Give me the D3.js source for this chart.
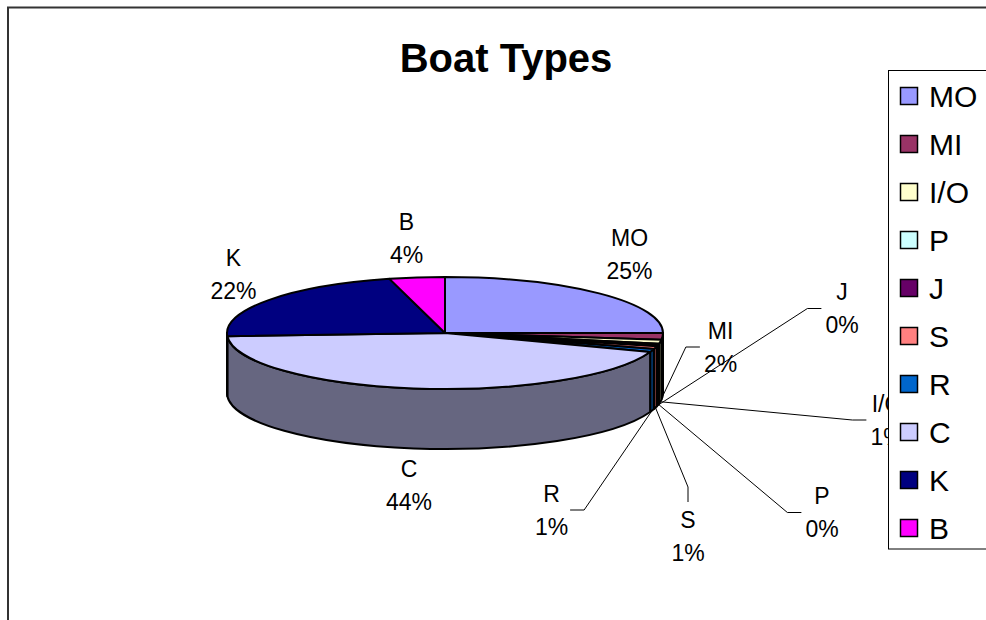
<!DOCTYPE html>
<html>
<head>
<meta charset="utf-8">
<script src="https://cdn.jsdelivr.net/npm/d3@7"></script>
<style>
  body { margin: 0; background: #fff; }
  svg { display: block; }
  text { font-family: "Liberation Sans", Arial, Helvetica, sans-serif; fill: #000; }
</style>
</head>
<body>
<svg id="chart" width="986" height="620"></svg>
<script>
// Boat type shares (percent of all boats counted)
const categories = ["MO", "MI", "I/O", "P", "J", "S", "R", "C", "K", "B"];
const shares     = [25.0, 1.9, 1.2, 0.3, 0.4, 0.8, 0.9, 43.6, 21.8, 4.1];
const colors     = ["#9999FF", "#993366", "#FFFFCC", "#CCFFFF", "#660066",
                    "#FF8080", "#0066CC", "#CCCCFF", "#000080", "#FF00FF"];
const chartTitle = "Boat Types";

// Layout of the tilted pie (ellipse radii and wall depth)
const pie3d = { cx: 445, cy: 333, rx: 218, ry: 56, depth: 60 };

// Label block centres, offset from the pie centre
const labelOffsets = {
  "MO": [184.5, -79], "MI": [275.5, 14], "I/O": [442, 87], "P": [377, 179.5],
  "J": [397, -24.5], "S": [243, 203.5], "R": [106.5, 177], "C": [-36, 152],
  "K": [-211.5, -59], "B": [-38.5, -95]
};
// Slices whose labels are pulled away and joined by a leader line
const leaderSide = { "MI": "left", "I/O": "left", "P": "left", "J": "left", "S": "top", "R": "right" };

const labelFont = 23, lineGap = 33;
const svg = d3.select("#chart");

// Chart area frame
svg.append("rect")
  .attr("x", 8).attr("y", 7.5).attr("width", 1100).attr("height", 700)
  .attr("fill", "#fff").attr("stroke", "#333").attr("stroke-width", 2);

// Title
svg.append("text")
  .attr("x", 506).attr("y", 72)
  .attr("text-anchor", "middle")
  .attr("font-size", 40).attr("font-weight", "bold")
  .text(chartTitle);

const data = categories.map((c, i) => ({ name: c, value: shares[i], color: colors[i] }));
const total = d3.sum(shares);
const arcs = d3.pie().sort(null).value(d => d.value)(data);

// Projects an angle (clockwise from 12 o'clock) onto the tilted ellipse, dropped by z
const proj = (a, z = 0) => [pie3d.cx + pie3d.rx * Math.sin(a), pie3d.cy - pie3d.ry * Math.cos(a) + z];
const shade = c => { const r = d3.rgb(c); return d3.rgb(r.r * 0.5, r.g * 0.5, r.b * 0.5).formatHex(); };

const pieG = svg.append("g");

// Outer walls: only the front half of the rim is visible
const front0 = Math.PI / 2, front1 = 3 * Math.PI / 2;
arcs.forEach(d => {
  const s = Math.max(d.startAngle, front0), e = Math.min(d.endAngle, front1);
  if (s >= e) return;
  const [x0, y0] = proj(s), [x1, y1] = proj(e);
  const large = (e - s) > Math.PI ? 1 : 0;
  const path = `M${x0},${y0} A${pie3d.rx},${pie3d.ry} 0 ${large} 1 ${x1},${y1}` +
               ` L${x1},${y1 + pie3d.depth}` +
               ` A${pie3d.rx},${pie3d.ry} 0 ${large} 0 ${x0},${y0 + pie3d.depth} Z`;
  pieG.append("path").attr("d", path)
    .attr("fill", shade(d.data.color))
    .attr("stroke", "#000").attr("stroke-width", 2).attr("stroke-linejoin", "round");
});

// Top faces
arcs.forEach(d => {
  const [x0, y0] = proj(d.startAngle), [x1, y1] = proj(d.endAngle);
  const large = (d.endAngle - d.startAngle) > Math.PI ? 1 : 0;
  const path = `M${pie3d.cx},${pie3d.cy} L${x0},${y0}` +
               ` A${pie3d.rx},${pie3d.ry} 0 ${large} 1 ${x1},${y1} Z`;
  pieG.append("path").attr("d", path)
    .attr("fill", d.data.color)
    .attr("stroke", "#000").attr("stroke-width", 2).attr("stroke-linejoin", "round");
});

// Data labels and leader lines
const labelG = svg.append("g");
const pct = v => Math.round(v / total * 100) + "%";
arcs.forEach(d => {
  const name = d.data.name;
  const [dx, dy] = labelOffsets[name];
  const lx = pie3d.cx + dx, ly = pie3d.cy + dy;

  const side = leaderSide[name];
  if (side) {
    const mid = (d.startAngle + d.endAngle) / 2;
    const [ax, ay] = proj(mid, pie3d.depth);
    const halfW = 1.445 * labelFont / 2;
    let end, elbow;
    if (side === "left")  { end = [lx - halfW - 4, ly]; elbow = [end[0] - 14, ly]; }
    if (side === "right") { end = [lx + halfW + 2, ly]; elbow = [end[0] + 14, ly]; }
    if (side === "top")   { end = [lx, ly - lineGap / 2 - 8 - 10]; elbow = [lx, end[1] - 15]; }
    labelG.append("path")
      .attr("d", `M${ax},${ay} L${elbow[0]},${elbow[1]} L${end[0]},${end[1]}`)
      .attr("fill", "none").attr("stroke", "#000").attr("stroke-width", 1);
  }

  const t = labelG.append("text")
    .attr("text-anchor", "middle")
    .attr("font-size", labelFont);
  t.append("tspan").attr("x", lx).attr("y", ly - lineGap / 2 + 8).text(name);
  t.append("tspan").attr("x", lx).attr("y", ly + lineGap / 2 + 8).text(pct(d.value));
});

// Legend (drawn last, over anything beneath it)
const legend = { x: 888.5, y: 70.5, bottom: 549, row0: 96, rowGap: 48, swatch: 17 };
const legG = svg.append("g");
legG.append("rect")
  .attr("x", legend.x).attr("y", legend.y)
  .attr("width", 200).attr("height", legend.bottom - legend.y)
  .attr("fill", "#fff").attr("stroke", "#000").attr("stroke-width", 1);
data.forEach((d, i) => {
  const cy = legend.row0 + i * legend.rowGap;
  legG.append("rect")
    .attr("x", 900.5).attr("y", cy - legend.swatch / 2)
    .attr("width", legend.swatch).attr("height", legend.swatch)
    .attr("fill", d.color).attr("stroke", "#000").attr("stroke-width", 1.5);
  legG.append("text")
    .attr("x", 929).attr("y", cy + 10.5)
    .attr("font-size", 30)
    .text(d.name);
});
</script>
</body>
</html>
